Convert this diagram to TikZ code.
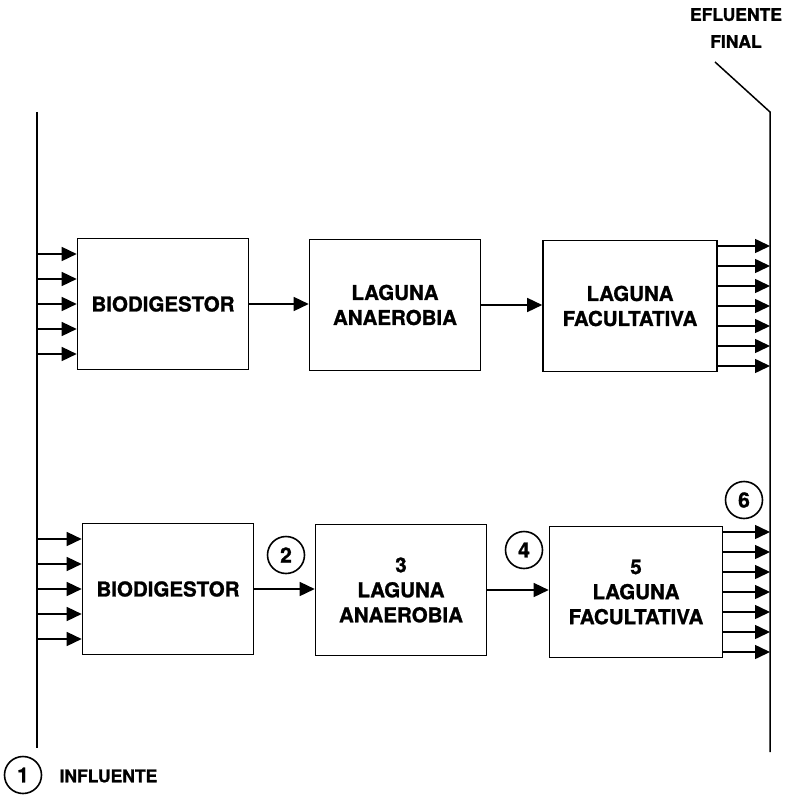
\documentclass[tikz,border=0pt]{standalone}
\usepackage{fontspec}
\setmainfont{TeX Gyre Heros}[BoldFeatures={FakeBold=1.2}]
\usetikzlibrary{arrows.meta}
\tikzset{
  unit/.style={draw, line width=1.6pt, minimum width=171pt, minimum height=131pt,
    align=center, font=\fontsize{20.5}{25}\selectfont\bfseries},
  flow/.style={line width=1.5pt, -{Triangle[length=15pt,width=14pt]}},
  pipe/.style={line width=1.5pt},
  tag/.style={draw, circle, line width=1.6pt, minimum size=37pt, inner sep=0pt,
    font=\fontsize{21}{21}\selectfont\bfseries},
  caption/.style={font=\fontsize{17.5}{27}\selectfont\bfseries, align=center}
}
\begin{document}
\begin{tikzpicture}[x=1pt,y=-1pt]
  \useasboundingbox (0,0) rectangle (796,799);
  % lineas de entrada y salida
  \coordinate (inTop) at (37,112);
  \coordinate (inBot) at (37,748);
  \coordinate (outSlant) at (715,62);
  \coordinate (outTop) at (770,112);
  \coordinate (outBot) at (770,752);
  \draw[pipe] (inTop) -- (inBot);
  \draw[pipe] (outSlant) -- (outTop) -- (outBot);
  % fila superior
  \node[unit] (bioA) at (163,304) {BIODIGESTOR};
  \node[unit] (anaA) at (395,305) {LAGUNA\\ANAEROBIA};
  \node[unit, minimum width=174pt] (facA) at (630,306) {LAGUNA\\FACULTATIVA};
  \draw[flow] (bioA.east) -- (bioA.east -| anaA.west);
  \draw[flow] (anaA.east) -- (anaA.east -| facA.west);
  % fila inferior
  \node[unit] (bioB) at (168,589) {BIODIGESTOR};
  \node[unit] (anaB) at (401,590) {3\\LAGUNA\\ANAEROBIA};
  \node[unit, minimum width=173pt] (facB) at (636,592) {5\\LAGUNA\\FACULTATIVA};
  \draw[flow] (bioB.east) -- (bioB.east -| anaB.west);
  \draw[flow] (anaB.east) -- (anaB.east -| facB.west);
  % entradas y salidas
  \foreach \dy in {-50,-25,0,25,50} {
    \draw[flow] ([yshift=\dy]bioA.west -| inTop) -- ([yshift=\dy]bioA.west);
    \draw[flow] ([yshift=\dy]bioB.west -| inTop) -- ([yshift=\dy]bioB.west);
  }
  \foreach \dy in {-60,-40,...,60} {
    \draw[flow] ([yshift=\dy]facA.east) -- ([yshift=\dy]facA.east -| outTop);
    \draw[flow] ([yshift=\dy]facB.east) -- ([yshift=\dy]facB.east -| outTop);
  }
  % puntos de muestreo
  \node[tag] (p1) at (23,775) {1};
  \node[tag] (p2) at (286,555) {2};
  \node[tag] (p4) at (524,550) {4};
  \node[tag] (p6) at (744,500) {6};
  \node[caption, anchor=west] (infl) at (56,776) {INFLUENTE};
  \node[caption] (efl) at (736,28) {EFLUENTE\\FINAL};
\end{tikzpicture}
\end{document}
